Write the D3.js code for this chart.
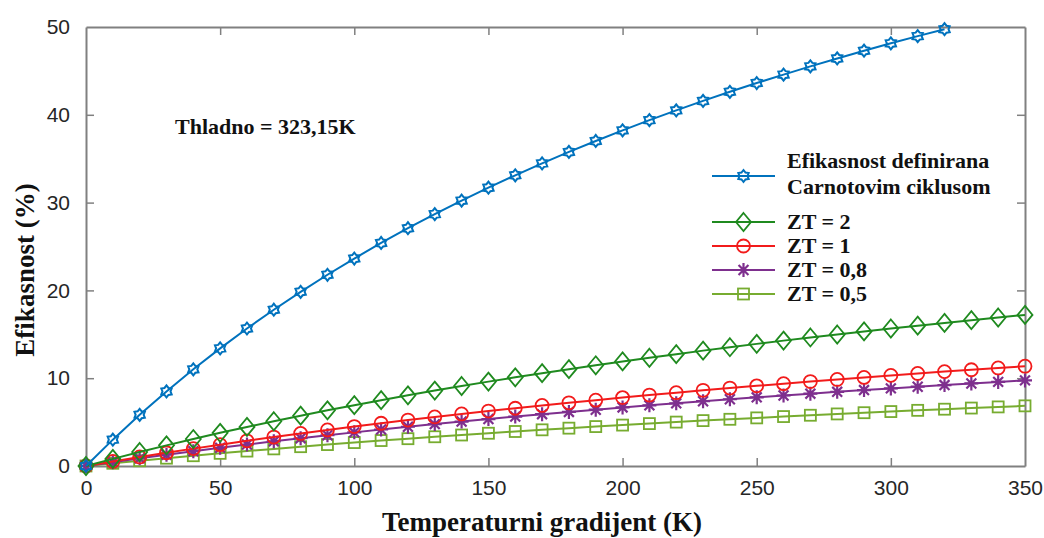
<!DOCTYPE html>
<html>
<head>
<meta charset="utf-8">
<script src="https://cdn.jsdelivr.net/npm/d3@7/dist/d3.min.js"></script>
<style>
  html, body { margin: 0; padding: 0; background: #fff; }
  svg { display: block; }
</style>
</head>
<body>
<svg id="chart" width="1044" height="538"></svg>
<script>
// Temperature gradient (K) sampled every 10 K
const gradient = [0,10,20,30,40,50,60,70,80,90,100,110,120,130,140,150,160,170,180,190,200,
  210,220,230,240,250,260,270,280,290,300,310,320,330,340,350];

// Carnot efficiency (%), up to 320 K
const carnot = [0,3.00,5.83,8.49,11.01,13.40,15.66,17.80,19.84,21.78,23.63,25.40,27.08,28.69,
  30.23,31.70,33.11,34.47,35.77,37.02,38.23,39.39,40.50,41.58,42.62,43.62,44.58,45.52,46.42,
  47.30,48.14,48.96,49.75];

// Thermoelectric efficiency (%) for each figure of merit
const zt2 = [0,0.81,1.60,2.35,3.07,3.78,4.45,5.10,5.73,6.34,6.93,7.50,8.05,8.59,9.11,9.61,10.10,
  10.57,11.03,11.47,11.91,12.33,12.74,13.14,13.53,13.91,14.28,14.64,14.98,15.33,15.66,15.98,
  16.30,16.61,16.91,17.21];
const zt1 = [0,0.52,1.03,1.51,1.98,2.43,2.87,3.30,3.71,4.11,4.49,4.87,5.23,5.59,5.93,6.26,6.58,
  6.90,7.20,7.50,7.79,8.08,8.35,8.62,8.88,9.13,9.38,9.62,9.86,10.09,10.32,10.54,10.75,10.96,
  11.17,11.37];
const zt08 = [0,0.44,0.87,1.29,1.69,2.07,2.45,2.81,3.16,3.50,3.83,4.16,4.47,4.77,5.06,5.35,5.63,
  5.90,6.16,6.41,6.67,6.91,7.14,7.38,7.60,7.82,8.03,8.24,8.45,8.65,8.84,9.03,9.22,9.40,9.58,9.75];
const zt05 = [0,0.31,0.60,0.89,1.17,1.44,1.70,1.95,2.20,2.44,2.67,2.90,3.11,3.33,3.53,3.73,3.93,
  4.12,4.31,4.49,4.66,4.83,5.00,5.17,5.32,5.48,5.63,5.78,5.93,6.07,6.20,6.34,6.47,6.60,6.73,6.85];

const xTicks = [0,50,100,150,200,250,300,350];
const yTicks = [0,10,20,30,40,50];

const legendCarnot = ["Efikasnost definirana", "Carnotovim ciklusom"];
const seriesNames = ["ZT = 2", "ZT = 1", "ZT = 0,8", "ZT = 0,5"];
const annotation = "Thladno = 323,15K";
const xTitle = "Temperaturni gradijent (K)";
const yTitle = "Efikasnost (%)";

const series = [
  { values: carnot, color: "#0072BD", marker: "hexagram" },
  { values: zt2,    color: "#1F8A1F", marker: "diamond" },
  { values: zt1,    color: "#F21B1B", marker: "circle" },
  { values: zt08,   color: "#7E2F8E", marker: "asterisk" },
  { values: zt05,   color: "#77AC30", marker: "square" }
];

const svg = d3.select("#chart");
const m = { left: 86, top: 27, right: 1025, bottom: 466 };

const x = d3.scaleLinear().domain([0, 350]).range([m.left, m.right]);
const y = d3.scaleLinear().domain([0, 50]).range([m.bottom, m.top]);

const axisColor = "#808080";
const tickLen = 8;
const sans = "'Liberation Sans', Arial, sans-serif";
const serif = "'Liberation Serif', 'Times New Roman', serif";

// Axes on all four sides, ticks pointing inward
const axBottom = svg.append("g").attr("transform", `translate(0,${m.bottom})`)
  .call(d3.axisBottom(x).tickValues(xTicks).tickSizeInner(-tickLen).tickSizeOuter(0).tickPadding(14));
const axTop = svg.append("g").attr("transform", `translate(0,${m.top})`)
  .call(d3.axisTop(x).tickValues(xTicks).tickSizeInner(-tickLen).tickSizeOuter(0).tickFormat(""));
const axLeft = svg.append("g").attr("transform", `translate(${m.left},0)`)
  .call(d3.axisLeft(y).tickValues(yTicks).tickSizeInner(-tickLen).tickSizeOuter(0).tickPadding(16));
const axRight = svg.append("g").attr("transform", `translate(${m.right},0)`)
  .call(d3.axisRight(y).tickValues(yTicks).tickSizeInner(-tickLen).tickSizeOuter(0).tickFormat(""));

[axBottom, axTop, axLeft, axRight].forEach(g => {
  g.select(".domain").attr("stroke", axisColor).attr("stroke-width", 2);
  g.selectAll(".tick line").attr("stroke", axisColor).attr("stroke-width", 1.5);
  g.selectAll(".tick text").attr("fill", "#262626")
    .style("font-family", sans).style("font-size", "21px");
});
// no tick marks at the corners
axBottom.selectAll(".tick").filter(d => d === 0 || d === 350).select("line").remove();
axTop.selectAll(".tick").filter(d => d === 0 || d === 350).select("line").remove();
axLeft.selectAll(".tick").filter(d => d === 0 || d === 50).select("line").remove();
axRight.selectAll(".tick").filter(d => d === 0 || d === 50).select("line").remove();

// Marker shapes
function drawMarker(g, type, color, cx, cy) {
  const sw = 1.8;
  if (type === "circle") {
    g.append("circle").attr("cx", cx).attr("cy", cy).attr("r", 6.5)
      .attr("fill", "none").attr("stroke", color).attr("stroke-width", sw);
  } else if (type === "square") {
    g.append("rect").attr("x", cx - 5.5).attr("y", cy - 5.5).attr("width", 11).attr("height", 11)
      .attr("fill", "none").attr("stroke", color).attr("stroke-width", sw);
  } else if (type === "diamond") {
    const w = 7.5, h = 9;
    g.append("path").attr("d", `M${cx},${cy - h}L${cx + w},${cy}L${cx},${cy + h}L${cx - w},${cy}Z`)
      .attr("fill", "none").attr("stroke", color).attr("stroke-width", sw);
  } else if (type === "hexagram") {
    const ro = 6, ri = 4, pts = [];
    for (let i = 0; i < 12; i++) {
      const a = -Math.PI / 2 + i * Math.PI / 6;
      const r = i % 2 === 0 ? ro : ri;
      pts.push([cx + r * Math.cos(a), cy + r * Math.sin(a)]);
    }
    g.append("path").attr("d", "M" + pts.map(p => p.join(",")).join("L") + "Z")
      .attr("fill", "none").attr("stroke", color).attr("stroke-width", 2);
  } else if (type === "asterisk") {
    const r = 7;
    let d = "";
    for (let i = 0; i < 4; i++) {
      const a = i * Math.PI / 4;
      d += `M${cx - r * Math.cos(a)},${cy - r * Math.sin(a)}L${cx + r * Math.cos(a)},${cy + r * Math.sin(a)}`;
    }
    g.append("path").attr("d", d).attr("fill", "none").attr("stroke", color).attr("stroke-width", 2.2);
  }
}

const line = d3.line().x(d => x(d[0])).y(d => y(d[1]));
const plot = svg.append("g");

// draw the lowest series first so the Carnot curve ends up on top
series.slice().reverse().forEach(s => {
  const pts = s.values.map((v, i) => [gradient[i], v]);
  const g = plot.append("g");
  g.append("path").datum(pts).attr("d", line)
    .attr("fill", "none").attr("stroke", s.color).attr("stroke-width", 2);
  pts.forEach(p => drawMarker(g, s.marker, s.color, x(p[0]), y(p[1])));
});

// Legend
const leg = svg.append("g");
const legX0 = 712, legX1 = 775, legTextX = 787;
const legRows = [
  { s: series[0], y: 176 },
  { s: series[1], y: 222, label: seriesNames[0] },
  { s: series[2], y: 246, label: seriesNames[1] },
  { s: series[3], y: 270, label: seriesNames[2] },
  { s: series[4], y: 294, label: seriesNames[3] }
];
legRows.forEach(r => {
  leg.append("line").attr("x1", legX0).attr("x2", legX1).attr("y1", r.y).attr("y2", r.y)
    .attr("stroke", r.s.color).attr("stroke-width", 2);
  drawMarker(leg, r.s.marker, r.s.color, (legX0 + legX1) / 2, r.y);
  if (r.label) {
    leg.append("text").attr("x", legTextX).attr("y", r.y + 7).text(r.label)
      .style("font-family", serif).style("font-weight", "bold").style("font-size", "22px")
      .attr("fill", "#111");
  }
});
legendCarnot.forEach((t, i) => {
  leg.append("text").attr("x", legTextX).attr("y", 168 + i * 26).text(t)
    .style("font-family", serif).style("font-weight", "bold").style("font-size", "22px")
    .attr("fill", "#111");
});

// Annotation
svg.append("text").attr("x", 175).attr("y", 134).text(annotation)
  .style("font-family", serif).style("font-weight", "bold").style("font-size", "22px")
  .attr("fill", "#111");

// Axis titles
svg.append("text").attr("x", 542).attr("y", 531).attr("text-anchor", "middle").text(xTitle)
  .style("font-family", serif).style("font-weight", "bold").style("font-size", "27px")
  .attr("fill", "#111");
svg.append("text").attr("transform", "translate(34,270) rotate(-90)")
  .attr("text-anchor", "middle").text(yTitle)
  .style("font-family", serif).style("font-weight", "bold").style("font-size", "27px")
  .attr("fill", "#111");
</script>
</body>
</html>
